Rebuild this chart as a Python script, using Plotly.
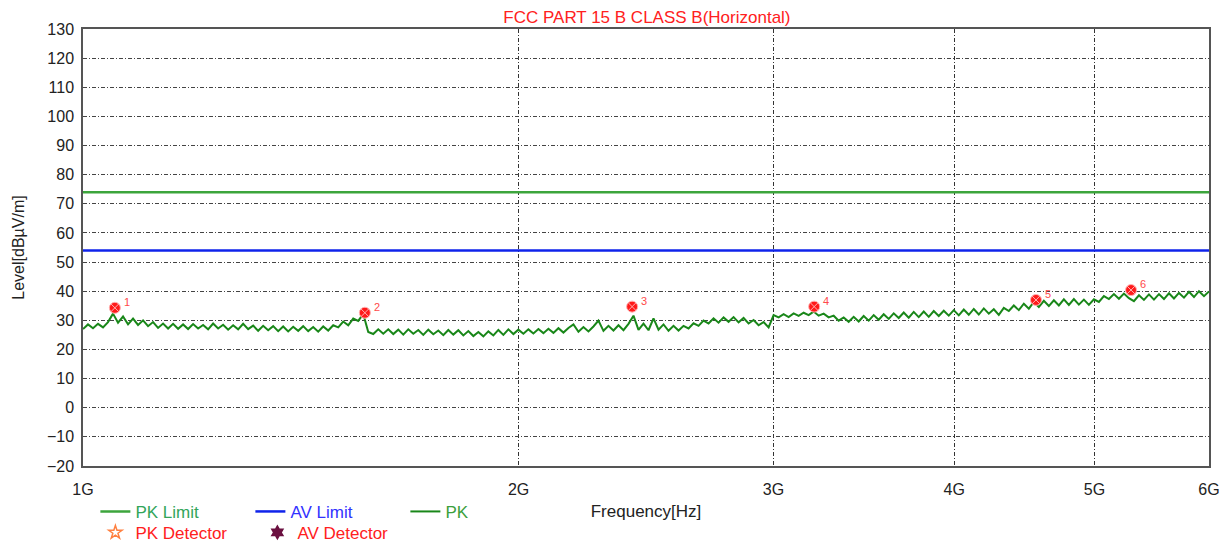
import numpy as np
import plotly.graph_objects as go

# ---- data ----
TITLE = "FCC PART 15 B CLASS B(Horizontal)"
F_START_HZ = 1e9
F_STOP_HZ = 6e9

PK_LIMIT = 74.0
AV_LIMIT = 54.0

# PK trace levels (dBµV/m) at successive log-spaced sweep points from 1 GHz to 6 GHz
pk_levels = [
    27.0, 28.6, 27.3, 28.8, 27.6, 29.4, 32.3, 29.2, 31.3, 28.6,
    30.6, 28.4, 30.0, 28.0, 29.4, 27.4, 28.9, 27.2, 28.8, 27.1,
    28.6, 27.0, 28.7, 27.2, 28.4, 26.9, 28.9, 27.2, 28.5, 26.8,
    28.3, 26.9, 28.8, 27.0, 28.2, 26.4, 28.1, 26.6, 28.0, 26.3,
    27.9, 26.2, 27.8, 26.4, 28.0, 26.3, 27.7, 26.1, 27.9, 26.5,
    28.3, 27.6, 29.6, 28.3, 30.6, 29.8, 32.2, 26.0, 25.3, 26.9,
    25.4, 26.9, 25.3, 26.8, 25.1, 26.9, 25.4, 26.7, 25.0, 26.8,
    25.2, 26.5, 24.9, 26.7, 25.1, 26.6, 24.8, 26.3, 24.6, 26.0,
    24.5, 26.2, 24.8, 26.7, 25.0, 26.9, 25.3, 26.8, 25.4, 26.9,
    25.5, 27.0, 25.6, 27.1, 25.7, 27.3, 25.8, 27.4, 28.6, 26.1,
    27.7, 26.2, 27.9, 29.9, 26.4, 28.1, 26.5, 28.3, 26.6, 28.8,
    31.6, 26.7, 28.9, 26.6, 30.7, 26.8, 28.6, 26.4, 28.1, 26.5,
    28.1, 27.2, 29.0, 28.1, 29.9, 28.9, 30.7, 29.2, 31.0, 29.5,
    31.1, 29.3, 30.8, 28.9, 30.1, 28.3, 29.4, 27.6, 31.8, 31.0,
    32.1, 31.1, 32.4, 31.5, 32.6, 31.8, 33.0, 31.6, 32.3, 31.0,
    31.6, 29.9, 31.0, 29.5, 31.2, 29.6, 31.5, 29.9, 31.8, 30.2,
    32.1, 30.5, 32.4, 30.8, 32.7, 30.9, 32.9, 31.1, 33.0, 31.2,
    33.2, 31.5, 33.3, 31.6, 33.5, 31.7, 33.7, 31.9, 33.9, 32.0,
    34.1, 32.3, 33.8, 31.9, 34.3, 33.2, 35.1, 33.5, 35.7, 34.0,
    36.3, 34.6, 36.7, 34.9, 36.9, 35.1, 37.2, 35.3, 37.3, 35.4,
    37.1, 35.3, 37.2, 36.3, 38.3, 37.3, 39.0, 37.4, 39.2, 37.6,
    36.6, 38.6, 37.0, 38.9, 37.1, 39.0, 37.3, 39.3, 37.5, 39.4,
    37.8, 39.8, 38.0, 40.0, 38.3, 39.9,
]
# sweep grid of the receiver (log-spaced points, one per level above)
pk_freq_hz = np.geomspace(F_START_HZ, F_STOP_HZ, len(pk_levels))

# marked peaks
marker_labels = ["1", "2", "3", "4", "5", "6"]
marker_freq_ghz = [1.052, 1.566, 2.396, 3.201, 4.556, 5.300]
marker_levels = [34.3, 32.6, 34.7, 34.7, 37.0, 40.4]

x_tick_ghz = [1, 2, 3, 4, 5, 6]
x_tick_text = ["1G", "2G", "3G", "4G", "5G", "6G"]
y_ticks = list(range(-20, 131, 10))

# ---- styles ----
GREEN_LIMIT = "rgb(60,165,60)"
BLUE_LIMIT = "rgb(15,35,235)"
GREEN_PK = "rgb(25,135,25)"
RED = "#ff2020"
FONT = "Liberation Sans, Arial, sans-serif"

fig = go.Figure()

fig.add_trace(go.Scatter(
    x=[F_START_HZ, F_STOP_HZ], y=[PK_LIMIT, PK_LIMIT], mode="lines",
    line=dict(color=GREEN_LIMIT, width=2.5),
    name="<span style='color:rgb(50,165,90)'>PK Limit</span>", legend="legend"))
fig.add_trace(go.Scatter(
    x=[F_START_HZ, F_STOP_HZ], y=[AV_LIMIT, AV_LIMIT], mode="lines",
    line=dict(color=BLUE_LIMIT, width=2.5),
    name="<span style='color:rgb(50,50,255)'>AV Limit</span>", legend="legend"))
fig.add_trace(go.Scatter(
    x=pk_freq_hz, y=pk_levels, mode="lines",
    line=dict(color=GREEN_PK, width=2),
    name="<span style='color:rgb(60,160,60)'>PK</span>", legend="legend"))

fig.add_trace(go.Scatter(
    x=[f * 1e9 for f in marker_freq_ghz], y=marker_levels,
    mode="markers",
    marker=dict(symbol="circle-x", size=11, color="#ff1a1a",
                line=dict(color="#ffb0b0", width=1)),
    showlegend=False, hoverinfo="skip"))

for lab, f, lv in zip(marker_labels, marker_freq_ghz, marker_levels):
    fig.add_annotation(x=np.log10(f * 1e9), y=lv, xref="x", yref="y", text=lab,
                       showarrow=False, xshift=12, yshift=6,
                       font=dict(color="#ff4a4a", size=11, family=FONT))

fig.add_trace(go.Scatter(
    x=[None], y=[None], mode="markers",
    marker=dict(symbol="star-open", size=10, color="#ff8040", line=dict(width=1.5)),
    name="<span style='color:#ff2020'>PK Detector</span>", legend="legend2"))
fig.add_trace(go.Scatter(
    x=[None], y=[None], mode="markers",
    marker=dict(symbol="hexagram", size=12, color="#6b1040"),
    name="<span style='color:#ff2020'>AV Detector</span>", legend="legend2"))

grid_dash = "4px,2px,1px,2px"

fig.update_layout(
    width=1224, height=535,
    margin=dict(l=75, r=23, t=21, b=77, autoexpand=False),
    paper_bgcolor="white", plot_bgcolor="white",
    font=dict(family=FONT, size=16, color="#222"),
    title=dict(text=TITLE, x=0.522, xanchor="center", y=0.983, yanchor="middle",
               font=dict(color=RED, size=17, family=FONT)),
    xaxis=dict(
        type="log", range=[np.log10(F_START_HZ), np.log10(F_STOP_HZ)],
        tickvals=[g * 1e9 for g in x_tick_ghz], ticktext=x_tick_text,
        showgrid=True, gridcolor="#333", griddash=grid_dash, gridwidth=1,
        showline=True, linecolor="#555", linewidth=1.5, mirror=True,
        ticks="", ticklabelstandoff=8, zeroline=False,
        tickfont=dict(size=16),
        title=dict(text="Frequency[Hz]", standoff=8, font=dict(size=17)),
    ),
    yaxis=dict(
        range=[-20, 130], tickvals=y_ticks,
        showgrid=True, gridcolor="#444", griddash=grid_dash, gridwidth=1,
        showline=True, linecolor="#555", linewidth=1.5, mirror=True,
        ticks="", ticklabelstandoff=4, zeroline=False,
        tickfont=dict(size=16),
        title=dict(text="Level[dBµV/m]", standoff=18, font=dict(size=16)),
    ),
    legend=dict(orientation="h", x=0.011, xanchor="left", y=-0.105, yanchor="middle",
                entrywidth=110, entrywidthmode="pixels", font=dict(size=17),
                bgcolor="rgba(0,0,0,0)"),
    legend2=dict(orientation="h", x=0.011, xanchor="left", y=-0.153, yanchor="middle",
                 entrywidth=117, entrywidthmode="pixels", font=dict(size=17),
                 bgcolor="rgba(0,0,0,0)"),
)

fig.write_html("out.html")
